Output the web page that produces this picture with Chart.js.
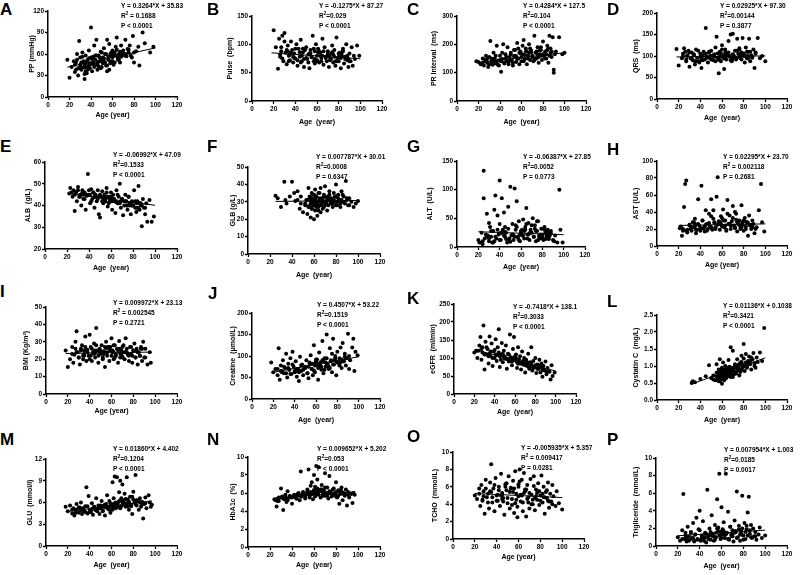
<!DOCTYPE html>
<html>
<head>
<meta charset="utf-8">
<script src="https://cdn.jsdelivr.net/npm/chart.js@4.4.1/dist/chart.umd.min.js"></script>
<style>
body { margin:0; background:#fff; width:800px; height:575px; position:relative; overflow:hidden; font-family:"Liberation Sans", Arial, sans-serif; }
canvas { position:absolute; }
.lbl { position:absolute; font-weight:bold; font-size:17px; line-height:17px; }
.eq { position:absolute; font-weight:bold; font-size:6.5px; line-height:10px; white-space:nowrap; }
.eq sup { font-size:4.5px; vertical-align:top; line-height:6px; }
</style>
</head>
<body>
<script>
// data (age in years vs each variable)
var ageA = [18,20,22,24,25,26,27,28,29,30,30,31,32,33,33,34,35,35,36,37,38,38,39,40,40,41,42,43,44,45,45,46,47,48,49,50,51,52,53,54,55,55,56,57,58,59,60,61,62,63,64,65,66,67,68,70,71,72,74,75,76,78,79,80,82,85,88,90,95,98,28,34,42,47,52,57,61,66,69,73,
  25,27,29,31,32,34,36,37,39,41,43,44,46,48,49,50,51,53,54,56,58,59,60,62,63,64,65,67,68,70,26,30,33,35,38,42,45,50,55,60,72,75,77,80,84,36,40,46,52,58];
var ppA = [52,27,42,50,35,48,60,30,78,45,55,38,62,41,50,25,47,58,33,52,44,65,40,97,55,36,48,72,52,45,80,38,58,50,63,42,55,68,48,60,80,36,52,74,47,57,65,45,62,70,83,55,60,48,72,65,58,80,67,62,72,55,85,48,64,44,90,75,62,70,40,32,56,43,50,38,58,52,60,57,
  45,52,40,48,56,44,50,38,47,53,42,58,46,55,40,52,47,60,44,56,50,62,55,48,58,66,52,63,56,60,38,42,48,36,54,46,58,62,44,50,60,66,58,62,70,41,46,48,54,60];
var fitA = [[18,41.7],[100,68.5]];

var ageB = [20,22,24,25,26,27,28,29,30,31,32,33,34,35,36,37,38,39,40,41,42,43,44,45,46,47,48,50,51,52,53,54,55,56,57,58,58,59,60,60,61,62,63,64,65,66,67,68,69,70,71,72,73,74,75,76,77,78,79,80,81,82,83,84,85,86,87,88,89,90,91,92,93,95,97,99,30,45,62,75,
  26,28,32,34,36,38,40,42,44,46,48,49,52,54,55,57,59,61,63,64,66,68,70,72,74,76,78,80,82,84,86,88,90,27,33,39,47,53,58,65,71,77,83,89,94,35,50,60,70,80];
var pulseB = [125,95,57,110,78,88,115,70,120,85,65,98,80,72,105,90,68,84,75,100,62,92,78,108,70,86,60,95,74,82,58,90,77,115,70,88,66,100,80,72,92,68,85,76,110,64,95,78,70,88,60,82,74,98,68,90,62,112,76,70,85,58,80,92,66,78,100,72,60,84,70,95,62,74,98,80,105,68,88,82,
  82,75,90,70,85,78,92,72,86,80,74,90,68,84,78,92,72,86,80,70,88,76,82,72,86,78,70,84,76,88,74,80,70,95,88,76,92,84,74,80,78,70,86,74,80,82,76,70,84,78];
var fitB = [[18,85.0],[100,74.5]];

// ages of the dense middle of the cohort, shared by several panels
var ageCore = [24,27,30,32,34,36,38,40,42,44,46,48,50,52,54,56,58,60,62,64,66,68,70,72,74,76,78,80,82,84,86,88,28,35,45,53,57,63,67,73,77,83,87,41,49,59,61,69,79,91];

var ageC = [18,20,22,24,25,26,27,28,29,30,31,32,33,34,35,36,37,38,39,40,41,42,43,44,45,46,47,48,49,50,51,52,53,54,55,56,57,58,59,60,61,62,63,64,65,66,67,68,69,70,71,72,73,74,75,76,77,78,79,80,81,82,83,84,85,86,87,88,89,90,90,92,95,98,100,35,55,65,75,85];
var prC = [140,138,130,150,125,145,160,135,120,155,212,140,128,170,150,135,195,142,125,160,103,148,200,135,165,140,190,130,155,170,145,125,180,160,138,205,150,130,175,140,165,215,148,185,130,160,200,145,178,155,140,230,170,150,190,135,165,180,145,210,160,175,150,195,135,230,170,155,225,110,100,175,225,165,170,145,158,175,162,185];
var prCore = [135,142,130,150,138,160,128,145,170,132,155,140,165,135,180,148,170,155,140,175,150,185,160,145,175,155,190,165,150,180,160,175,148,132,150,158,185,162,170,150,178,165,185,140,142,168,195,172,160,165];
var fitC = [[18,135.2],[100,170.3]];

var ageD = [18,20,23,24,25,27,28,29,30,31,32,33,34,35,36,37,38,40,41,42,43,44,45,46,47,48,49,50,51,52,53,54,55,56,57,58,59,60,61,62,63,64,65,66,67,68,69,70,71,72,73,74,75,76,77,78,79,80,81,82,83,84,85,86,87,88,89,90,91,93,95,97,100,26,39,57,63,70,76,84];
var qrsD = [116,78,95,105,118,88,100,112,75,95,108,90,102,80,115,96,88,105,72,100,110,92,165,98,85,108,95,112,100,90,104,120,145,96,60,110,88,125,100,70,115,92,105,135,98,150,88,152,100,112,92,140,105,118,95,108,142,100,85,120,95,110,140,88,102,98,115,72,105,142,95,100,88,110,85,92,104,96,115,100];
var qrsCore = [100,92,108,95,104,88,112,98,90,105,96,110,92,102,88,106,98,115,94,100,108,90,104,96,112,98,92,106,100,94,110,96,102,88,105,98,92,108,100,95,104,110,98,92,100,106,96,90,102,108];
var fitD = [[18,97.8],[100,100.2]];

var ageE = [22,23,25,26,27,28,29,30,31,32,33,34,35,36,37,38,39,40,41,42,43,44,45,46,47,48,49,50,51,52,53,54,55,56,57,58,59,60,61,62,63,64,65,66,67,68,69,70,71,72,73,74,75,76,77,78,79,80,81,82,83,84,85,86,87,88,89,90,91,92,93,95,97,99,45,55,60,65,75,85];
var albE = [45.5,48,44,47,37.5,46,42,48.5,44,45,40,47,43,46,38,44.5,54.5,45,41,47.5,43,46,39,45,42,47,36,34.5,44,46.5,41,45,43,48,39.5,44,42,46,38,45,43,36.5,47,41,44,50,39,43,35.5,42,45,40,38,44,41,36,42,40,47,39,37,42,49,38,41,30.5,43,39,36,41,32.5,42.5,32.5,35,44,42,43.5,41.5,40,38.5];
var albCore = [46,45,47,44,46,43,45,47,42,46,44,43,45,42,44,46,41,44,43,42,45,41,43,40,42,44,41,40,42,39,41,40,46,45,44,43,44,42,41,42,40,41,40,45,44,43,42,42,40,39];
var fitE = [[22,45.5],[100,40.1]];

var ageF = [25,27,30,33,34,35,38,40,42,43,45,47,48,50,52,53,54,55,56,56,57,57,58,58,59,59,60,60,61,61,62,62,63,63,64,64,65,66,66,67,68,68,69,70,70,71,72,73,74,75,76,77,78,79,80,80,81,82,83,84,85,86,87,88,89,90,91,92,94,96,98,100,60,62,65,72,58,78,55,67,
  52,54,55,56,57,58,58,59,60,60,61,62,62,63,64,65,65,66,67,68,69,70,71,72,73,74,75,76,77,78,79,80,81,82,84,85,86,88,90,92,45,48,56,59,61,63,66,69,71,74];
var glbF = [33.5,32,27,41.5,31,29,33,41.5,35,30.5,36,26,33,24,29,31,23,38,27,32,21,30,35,26,28,34,20,31,25,37,29,33,22,30,27,35,32,24,38,29,31,26,34,28,39,30,25,33,36,29,31,27,35,30,40,33,28,34,31,27,36,30,33,29,42,31,28,32,30,27,29,30.5,29.5,30,31,32,28.5,31,27.5,30,
  28,31,27,33,29,26,32,30,28,34,31,27,33,29,25,31,35,28,32,30,27,33,29,31,28,34,30,32,29,31,33,28,30,32,29,31,34,30,32,28,31,29,27,30,32,28,30,33,29,31];
var fitF = [[25,30.2],[100,30.8]];

var ageG = [20,21,23,24,25,25,26,28,29,30,31,32,33,34,35,36,37,38,39,40,40,41,42,43,44,45,46,47,48,49,50,51,52,53,54,55,56,57,58,59,60,61,62,63,64,65,66,67,68,69,70,71,72,73,74,75,76,77,78,79,80,81,82,83,84,85,86,88,90,92,94,96,97,99,30,45,55,65,75,85];
var altG = [12,8,25,5,133,85,15,58,20,10,35,18,8,28,65,90,15,55,22,116,40,12,85,30,60,18,25,8,70,15,105,20,40,12,102,30,80,18,45,10,28,20,48,15,35,68,22,42,12,30,25,50,18,38,10,28,45,20,15,32,22,12,35,25,18,30,15,28,12,20,8,100,30,8,42,35,38,40,45,25];
var altCore = [10,22,15,28,8,18,30,12,25,20,14,32,9,22,18,35,12,26,20,30,15,24,38,18,28,12,22,16,30,20,14,24,18,10,26,20,16,28,22,32,18,14,20,25,12,22,30,26,18,10];
var fitG = [[20,26.6],[100,21.5]];

var ageH = [21,22,23,24,25,26,27,28,30,31,32,33,34,35,36,37,38,39,40,41,42,43,44,45,46,47,48,49,50,51,52,53,54,55,56,57,58,59,60,61,62,63,64,65,66,67,68,69,70,71,72,73,74,75,76,77,78,79,80,81,82,83,84,85,86,87,88,89,90,92,94,96,97,99,35,50,60,65,72,80];
var astH = [21,23,12,18,46,73,77,16,25,20,18,28,22,32,15,19,55,24,18,71,30,21,17,42,26,20,38,23,55,19,42,28,22,58,81,26,19,35,24,43,22,30,18,54,26,36,20,29,47,24,22,38,17,26,30,20,48,25,18,33,23,28,12,36,24,20,30,26,15,22,42,73,28,17,26,35,33,38,40,30];
var astCore = [20,18,24,22,28,19,26,21,30,23,18,27,22,32,20,25,28,23,30,19,26,24,33,21,28,25,22,30,20,27,24,22,19,23,25,27,29,24,26,31,23,28,25,21,22,26,30,24,28,20];
var fitH = [[20,24.2],[100,26.0]];

var ageI = [18,20,22,24,25,26,27,28,29,30,31,32,33,34,35,36,37,38,39,40,41,42,43,44,45,46,47,48,49,50,51,52,53,54,55,56,57,58,59,60,61,62,63,64,65,66,67,68,69,70,71,72,73,74,75,76,77,78,79,80,81,82,83,84,85,86,87,88,89,90,91,93,95,96,35,45,55,62,70,78];
var bmiI = [25,15.5,20,27,18,22.5,30,36,24,21,17,26,28,20,23,33,19,25.5,22,34,27,19,24,29,21,38,25,18,26,23,28,20,24.5,15.5,30,22,27,19,25,32,24,20,28,22,26,18,30.5,23,25,21,28,20,32,24,22.5,19,27,23,18,25,29,21,26,17,24,22,27,19,30,21,26,17,24,18,25,23.5,26.5,24,21.5,27];
var bmiCore = [23,26,21,25,22,27,24,20,26,23,28,22,25,21,27,24,26,22,28,23,25,21,27,24,26,22,23,25,21,24,22,26,24,22,25,23,27,21,26,24,23,25,26,22,24,27,25,23,22,21];
var fitI = [[18,23.3],[97,24.1]];

var ageJ = [18,20,22,24,25,26,27,28,29,30,31,32,33,34,35,36,37,38,39,40,41,42,43,44,45,46,47,48,50,51,52,53,54,55,56,57,58,59,60,61,62,63,64,65,66,67,68,69,70,71,72,73,74,75,76,77,78,79,80,81,82,83,84,85,86,87,88,89,90,91,92,94,95,96,97,99,60,65,70,75];
var creJ = [85,62,70,55,118,45,78,65,90,60,72,105,50,82,68,95,58,110,75,62,88,52,70,42,98,65,80,55,72,90,60,48,85,102,70,55,125,62,92,78,45,108,85,68,135,60,95,75,150,82,70,118,90,62,140,80,100,55,110,85,95,120,72,130,88,105,78,95,152,70,90,120,140,65,110,102,88,75,95,105];
var creCore = [70,65,75,60,72,58,80,65,70,62,78,68,75,60,82,70,66,85,72,78,90,68,82,75,88,80,95,85,78,92,88,95,62,68,66,75,82,80,88,72,90,85,98,64,72,78,92,85,88,100];
var fitJ = [[18,61.3],[100,98.3]];

var ageK = [20,22,23,25,26,27,28,29,30,31,32,33,34,35,36,37,38,39,40,41,42,43,44,45,46,47,48,49,50,51,52,53,54,55,56,57,58,59,60,61,62,63,64,65,66,67,68,69,70,71,72,73,74,75,76,77,78,79,80,81,82,83,84,85,86,87,88,89,90,91,92,94,95,96,97,99,45,55,65,75];
var egfrK = [115,120,100,135,158,95,130,190,68,145,110,125,85,160,105,140,78,118,100,152,92,130,180,75,110,142,88,120,98,135,70,112,90,165,102,80,125,158,95,110,72,130,88,105,68,118,82,100,60,95,78,112,70,88,130,65,92,75,100,58,82,70,95,60,85,48,78,65,90,55,72,62,40,80,50,60,105,98,85,78];
var egfrCore = [120,125,110,130,105,118,100,122,108,115,95,112,104,98,110,92,100,105,88,96,85,92,80,88,76,84,72,80,70,78,74,68,115,112,108,96,90,84,88,78,76,70,66,110,102,94,100,86,74,62];
var fitK = [[20,123.3],[100,63.9]];

var ageL = [32,33,35,40,45,48,50,52,54,55,55,56,57,57,58,58,59,59,60,60,61,61,62,62,63,63,64,64,65,65,66,67,67,68,68,69,70,70,71,72,73,74,74,75,76,77,78,78,79,80,80,81,82,83,84,85,86,87,88,89,90,91,92,93,95,97,99,60,62,66,
  55,56,57,58,59,60,61,62,63,64,65,66,67,68,69,70,71,72,73,74,75,76,77,78,79,80,82,84,86,88,58,60,62,64,66,68,70,72,74,76,78,80,83,85,87,90,52,57,63,67];
var cysL = [0.5,0.55,0.52,0.62,0.7,1.02,0.65,0.72,0.58,0.8,1.05,0.68,0.9,0.55,0.75,1.2,0.62,0.85,0.48,0.95,0.72,1.1,0.58,0.88,0.78,1.0,0.65,0.92,0.7,0.82,1.18,0.75,0.98,1.55,0.8,0.88,1.45,0.68,0.92,1.05,0.78,1.2,0.85,0.95,0.72,1.1,1.3,0.88,0.98,1.65,1.02,0.85,1.35,0.95,1.15,1.28,1.05,0.9,1.2,1.38,1.08,0.95,1.25,1.12,1.4,1.15,2.12,0.62,0.78,0.85,
  0.7,0.62,0.82,0.68,0.75,0.9,0.7,0.85,0.65,0.8,0.95,0.72,0.88,0.78,0.92,0.85,0.75,1.0,0.8,0.95,0.88,1.05,0.82,1.12,0.95,1.0,1.1,1.05,1.15,1.2,0.55,0.78,0.6,0.72,0.85,0.68,0.95,0.82,1.02,0.9,1.08,1.22,0.98,1.12,1.25,1.0,0.6,0.66,0.9,0.75];
var fitL = [[32,0.47],[100,1.24]];

var ageM = [18,20,22,24,25,26,27,28,30,31,32,33,34,35,36,37,38,39,40,41,42,43,44,45,46,47,48,49,50,51,52,53,54,55,56,57,58,59,60,61,62,63,64,65,66,67,68,69,70,71,72,73,74,75,76,77,78,79,80,81,82,83,84,85,86,87,88,89,90,91,92,94,95,96,97,65,70,75,60,55];
var gluM = [5.4,4.8,5.6,4.5,5.2,4.2,5.0,5.8,4.6,5.3,6.0,4.4,5.1,4.8,5.5,8.1,4.5,6.9,5.0,4.7,5.9,4.3,5.4,5.0,6.6,4.8,5.2,4.4,5.6,6.2,4.9,5.4,4.2,5.8,7.0,5.1,6.2,4.6,5.5,8.8,6.6,9.6,5.2,9.5,6.0,7.4,9.0,5.5,8.5,6.1,7.2,5.4,9.5,6.4,5.0,6.8,5.6,4.4,7.5,6.0,9.8,5.6,6.3,5.0,6.6,5.4,6.1,3.8,5.8,6.7,5.2,7.0,6.0,5.4,5.7,5.8,6.0,5.5,5.6,5.3];
var gluCore = [5.0,4.6,5.3,4.9,5.2,4.7,5.5,4.8,5.1,5.4,4.9,5.6,5.2,4.8,5.7,5.3,5.0,5.8,5.4,6.0,5.5,5.2,6.3,5.7,5.9,6.1,5.5,6.4,5.8,6.2,6.0,5.7,5.0,4.8,5.2,5.6,5.4,5.9,6.2,6.5,5.8,6.3,6.0,4.7,5.3,5.9,5.0,6.6,6.8,5.9];
var fitM = [[18,4.74],[97,6.21]];

var ageN = [25,26,27,28,30,31,32,33,34,35,36,38,40,42,44,45,47,48,49,50,52,53,54,55,56,57,58,58,59,60,60,61,62,62,63,64,64,65,66,67,68,69,70,71,72,73,74,75,76,77,78,79,80,81,82,83,84,85,86,87,88,89,90,91,92,94,95,96,97,65,70,75,55,60,80,63,68,72,57,85];
var hbaN = [5.2,4.5,5.4,5.1,6.5,5.6,4.1,5.3,5.8,5.0,6.2,5.5,4.8,5.7,5.4,5.9,5.2,8.4,5.6,6.1,5.4,5.8,6.4,8.6,5.5,6.8,5.9,7.2,5.3,6.0,8.0,5.6,9.0,6.5,7.5,5.8,8.9,6.2,5.5,6.9,5.7,6.3,8.2,5.9,6.6,5.4,7.9,6.1,5.6,6.4,5.8,6.0,7.2,5.5,6.3,4.8,5.9,6.6,5.2,6.0,5.7,6.4,4.6,6.1,5.5,5.9,4.9,6.0,5.8,6.2,5.7,6.0,5.9,6.3,5.6,6.5,6.1,5.7,5.8,6.2];
var hbaCore = [5.3,5.1,5.5,5.4,5.6,5.2,5.7,5.5,5.8,5.4,6.0,5.6,5.9,5.7,6.2,5.8,6.0,6.3,5.9,6.1,6.4,5.8,6.6,6.0,6.2,5.9,6.5,6.1,5.7,6.3,6.0,5.8,5.5,5.4,5.7,5.9,6.1,6.2,6.4,6.0,5.8,6.2,5.9,5.6,5.8,6.0,6.7,6.1,5.9,5.8];
var fitN = [[25,5.44],[97,6.14]];

var ageO = [20,22,24,25,26,27,28,29,30,31,32,33,34,35,36,37,38,39,40,41,42,43,44,45,46,47,48,49,50,51,52,53,54,55,56,57,58,59,60,61,62,63,64,65,66,67,68,69,70,71,72,73,74,75,76,77,78,79,80,81,82,83,84,85,86,87,88,89,90,91,92,94,95,97,100,45,55,60,65,75];
var tchO = [5.0,4.6,5.8,3.8,6.2,4.4,5.5,2.9,6.8,4.8,5.2,3.5,6.5,8.6,4.2,5.8,3.2,7.0,5.0,4.4,6.0,3.8,7.5,5.3,4.7,2.8,6.3,5.6,4.1,7.2,3.5,5.8,4.6,6.7,3.0,7.8,5.2,2.5,6.0,8.0,4.3,6.8,3.2,7.6,5.5,2.6,6.2,4.8,3.5,6.9,5.1,4.0,7.2,3.3,5.7,4.5,6.4,3.9,5.0,7.3,4.2,6.0,2.9,5.4,4.7,6.5,3.6,5.2,4.3,6.2,4.9,3.8,5.5,4.1,3.4,5.1,5.4,4.9,5.3,4.7];
var tchCore = [5.2,4.5,5.8,4.2,5.5,4.8,6.2,4.4,5.6,5.0,4.3,6.0,4.7,5.4,3.9,5.8,4.5,6.3,5.1,4.2,5.7,4.6,5.3,4.0,6.1,4.9,5.5,4.4,5.2,4.8,5.6,4.3,4.9,5.4,4.6,5.9,4.1,5.0,5.7,4.5,5.3,4.8,4.4,5.1,6.4,3.7,6.6,4.2,5.5,4.0];
var fitO = [[20,5.24],[100,4.76]];

var ageP = [20,22,24,25,26,27,28,29,30,31,32,33,34,35,36,37,38,39,40,41,42,43,44,45,46,47,48,49,50,51,52,53,54,55,56,57,58,59,60,61,62,63,64,65,66,67,68,69,70,71,72,73,74,75,76,77,78,79,80,81,82,83,84,85,86,87,88,89,90,91,92,94,95,97,100,45,55,62,70,78];
var tgP = [1.0,0.6,1.8,5.9,0.8,1.5,0.5,2.2,1.1,0.7,1.6,0.9,2.6,0.5,1.3,3.2,0.8,1.9,4.0,0.6,1.2,2.8,0.9,1.5,0.4,6.4,1.1,2.0,0.7,3.5,1.4,0.6,2.4,1.0,5.3,1.7,8.2,0.8,4.4,1.3,2.7,0.9,8.2,1.5,3.9,0.7,2.2,1.2,1.8,0.5,2.9,1.6,6.2,1.0,2.3,0.6,1.7,5.7,1.2,2.6,0.8,1.9,3.8,5.6,1.4,2.4,0.9,2.0,1.1,1.6,0.7,1.3,2.1,0.9,1.2,1.0,1.5,1.3,1.1,1.4];
var tgCore = [0.8,1.2,0.6,1.5,0.9,1.3,0.7,1.8,1.0,0.6,1.4,0.8,1.6,1.1,0.7,2.0,1.2,0.9,1.7,1.3,0.8,2.2,1.1,1.5,0.9,1.9,1.3,0.7,1.6,1.2,1.8,1.0,0.9,0.6,1.4,1.1,2.1,1.5,0.8,1.7,1.3,2.3,1.0,0.7,1.2,1.6,1.9,1.4,2.0,1.1];
var fitP = [[20,1.16],[100,1.80]];

var xTicks = [0, 120, 20];

// panel layout: plot box (l,t,r,b), y range, titles, annotation spot, letter spot
var panels = [
  {k:'A', x:ageA, y:ppA, fit:fitA, l:48, t:11, r:177, b:97, min:0, max:120, step:30, yt:'PP (mmHg)', xt:'Age (year)', ytx:32, xty:115,
   eq:['Y = 0.3264*X + 35.83', 'R<sup>2</sup> = 0.1688', 'P &lt; 0.0001'], ex:121, ey:6, lx:0, ly:3},
  {k:'B', x:ageB, y:pulseB, fit:fitB, l:252, t:16, r:382, b:101, min:0, max:150, step:50, yt:'Pulse  (bpm)', xt:'Age  (year)', ytx:230.5, xty:122.7,
   eq:['Y = -0.1275*X + 87.27', 'R<sup>2</sup>=0.029', 'P &lt; 0.0001'], ex:319, ey:6, lx:207, ly:3},
  {k:'C', x:ageC.concat(ageCore), y:prC.concat(prCore), fit:fitC, l:457, t:16, r:586, b:101, min:0, max:300, step:100, yt:'PR Interval  (ms)', xt:'Age  (year)', ytx:434.5, xty:122.3,
   eq:['Y = 0.4284*X + 127.5', 'R<sup>2</sup>=0.104', 'P &lt; 0.0001'], ex:523, ey:6, lx:407, ly:3},
  {k:'D', x:ageD.concat(ageCore), y:qrsD.concat(qrsCore), fit:fitD, l:657, t:13, r:787, b:99, min:0, max:200, step:50, yt:'QRS  (ms)', xt:'Age  (year)', ytx:636.5, xty:118.3,
   eq:['Y = 0.02925*X + 97.30', 'R<sup>2</sup>=0.00144', 'P = 0.3877'], ex:720, ey:6, lx:607, ly:3},
  {k:'E', x:ageE.concat(ageCore), y:albE.concat(albCore), fit:fitE, l:45, t:162, r:177, b:249, min:20, max:60, step:10, yt:'ALB  (g/L)', xt:'Age  (year)', ytx:28.5, xty:268.3,
   eq:['Y = -0.06992*X + 47.09', 'R<sup>2</sup>=0.1533', 'P &lt; 0.0001'], ex:113, ey:155, lx:0, ly:140},
  {k:'F', x:ageF, y:glbF, fit:fitF, l:248, t:167, r:380, b:254, min:0, max:50, step:10, yt:'GLB (g/L)', xt:'Age  (year)', ytx:233.5, xty:275,
   eq:['Y = 0.007787*X + 30.01', 'R<sup>2</sup>=0.0008', 'P = 0.6347'], ex:316, ey:157, lx:207, ly:140},
  {k:'G', x:ageG.concat(ageCore), y:altG.concat(altCore), fit:fitG, l:457, t:161, r:585, b:247, min:0, max:150, step:50, yt:'ALT  (U/L)', xt:'Age  (year)', ytx:430, xty:267.7,
   eq:['Y = -0.06387*X + 27.85', 'R<sup>2</sup>=0.0052', 'P = 0.0773'], ex:523, ey:157, lx:407, ly:140},
  {k:'H', x:ageH.concat(ageCore), y:astH.concat(astCore), fit:fitH, l:657, t:161, r:787, b:246, min:0, max:100, step:20, yt:'AST (U/L)', xt:'Age (year)', ytx:636, xty:265,
   eq:['Y = 0.02295*X + 23.70', 'R<sup>2</sup> = 0.002118', 'P = 0.2681'], ex:723, ey:157, lx:607, ly:143},
  {k:'I', x:ageI.concat(ageCore), y:bmiI.concat(bmiCore), fit:fitI, l:46, t:307, r:177, b:394, min:0, max:50, step:10, yt:'BMI (Kg/m²)', xt:'Age (year)', ytx:26.5, xty:411.7,
   eq:['Y = 0.009972*X + 23.13', 'R<sup>2</sup> = 0.002545', 'P = 0.2721'], ex:113, ey:303, lx:0, ly:285},
  {k:'J', x:ageJ.concat(ageCore), y:creJ.concat(creCore), fit:fitJ, l:252, t:313, r:380, b:399, min:0, max:200, step:50, yt:'Creatine  (μmol/L)', xt:'Age  (year)', ytx:233.5, xty:420.7,
   eq:['Y = 0.4507*X + 53.22', 'R<sup>2</sup>=0.1519', 'P &lt; 0.0001'], ex:317, ey:305, lx:208, ly:287},
  {k:'K', x:ageK.concat(ageCore), y:egfrK.concat(egfrCore), fit:fitK, l:454, t:304, r:576, b:394, min:0, max:250, step:50, yt:'eGFR  (ml/min)', xt:'Age  (year)', ytx:433.5, xty:412.7,
   eq:['Y = -0.7418*X + 138.1', 'R<sup>2</sup>=0.3033', 'P &lt; 0.0001'], ex:513, ey:307, lx:407, ly:292},
  {k:'L', x:ageL, y:cysL, fit:fitL, l:657, t:315, r:787, b:400, min:0, max:2.5, step:0.5, yt:'Cystatin C  (mg/L)', xt:'Age  (year)', ytx:636.5, xty:420.7,
   eq:['Y = 0.01136*X + 0.1038', 'R<sup>2</sup>=0.3421', 'P &lt; 0.0001'], ex:723, ey:306, lx:607, ly:295},
  {k:'M', x:ageM.concat(ageCore), y:gluM.concat(gluCore), fit:fitM, l:46, t:459, r:177, b:546, min:0, max:12, step:3, yt:'GLU  (mmol/l)', xt:'Age  (year)', ytx:30, xty:565,
   eq:['Y = 0.01860*X + 4.402', 'R<sup>2</sup>=0.1204', 'P &lt; 0.0001'], ex:113, ey:449, lx:0, ly:433},
  {k:'N', x:ageN.concat(ageCore), y:hbaN.concat(hbaCore), fit:fitN, l:248, t:457, r:380, b:547, min:0, max:10, step:2, yt:'HbA1c  (%)', xt:'Age  (year)', ytx:233.5, xty:565.7,
   eq:['Y = 0.009652*X + 5.202', 'R<sup>2</sup>=0.053', 'P &lt; 0.0001'], ex:317, ey:449, lx:207, ly:433},
  {k:'O', x:ageO.concat(ageCore), y:tchO.concat(tchCore), fit:fitO, l:453, t:452, r:584, b:539, min:0, max:10, step:2, yt:'TCHO  (mmol/L)', xt:'Age (year)', ytx:435, xty:557.3,
   eq:['Y = -0.005935*X + 5.357', 'R<sup>2</sup> = 0.009417', 'P = 0.0281'], ex:521, ey:448, lx:407, ly:430},
  {k:'P', x:ageP.concat(ageCore), y:tgP.concat(tgCore), fit:fitP, l:656, t:458, r:787, b:546, min:0, max:10, step:2, yt:'Trigliceride  (mmol/L)', xt:'Age  (year)', ytx:636.5, xty:566,
   eq:['Y = 0.007954*X + 1.003', 'R<sup>2</sup>=0.0185', 'P = 0.0017'], ex:724, ey:450, lx:607, ly:433}
];

Chart.defaults.font.family = '"Liberation Sans", Arial, sans-serif';
Chart.defaults.color = '#000';

var tickFont = {size: 6.5, weight: 'bold'};
var titleFont = {size: 7, weight: 'bold', lineHeight: 1};

function build(p) {
  var PT = 8, PR = 12;
  var left = Math.round(p.ytx - 3.5);
  var yw = p.l - left;
  var xh = Math.round(p.xty - p.b + 3.5);
  var w = Math.round(yw + (p.r - p.l) + PR);
  var h = Math.round(PT + (p.b - p.t) + xh);

  var can = document.createElement('canvas');
  can.style.left = left + 'px';
  can.style.top = (p.t - PT) + 'px';
  can.style.width = w + 'px';
  can.style.height = h + 'px';
  can.width = w;
  can.height = h;
  document.body.appendChild(can);

  var pts = p.x.map(function (v, i) { return {x: v, y: p.y[i]}; });
  var line = p.fit.map(function (q) { return {x: q[0], y: q[1]}; });
  var dec = p.step < 1 ? 1 : 0;

  new Chart(can, {
    type: 'scatter',
    data: {
      datasets: [
        {data: pts, pointRadius: 2, pointBackgroundColor: '#000', pointBorderWidth: 0},
        {type: 'line', data: line, borderColor: '#000', borderWidth: 1, pointRadius: 0, fill: false}
      ]
    },
    options: {
      responsive: false,
      animation: false,
      devicePixelRatio: 1,
      layout: {padding: {top: PT, right: PR, left: 0, bottom: 0}},
      plugins: {legend: {display: false}, tooltip: {enabled: false}},
      scales: {
        x: {
          type: 'linear', min: xTicks[0], max: xTicks[1],
          ticks: {stepSize: xTicks[2], font: tickFont, padding: 1, autoSkip: false, maxRotation: 0},
          grid: {drawOnChartArea: false, drawTicks: true, tickLength: 3, tickWidth: 1.3, color: '#000'},
          border: {color: '#000', width: 1.5},
          title: {display: true, text: p.xt, font: titleFont, padding: 0},
          afterFit: function (s) { s.height = xh; }
        },
        y: {
          type: 'linear', min: p.min, max: p.max,
          ticks: {stepSize: p.step, font: tickFont, padding: 1, autoSkip: false,
                  callback: function (v) { return v.toFixed(dec); }},
          grid: {drawOnChartArea: false, drawTicks: true, tickLength: 3, tickWidth: 1.3, color: '#000'},
          border: {color: '#000', width: 1.5},
          title: {display: true, text: p.yt, font: titleFont, padding: 0},
          afterFit: function (s) { s.width = yw; }
        }
      }
    }
  });

  var lb = document.createElement('div');
  lb.className = 'lbl';
  lb.style.left = p.lx + 'px';
  lb.style.top = (p.ly - 2) + 'px';
  lb.textContent = p.k;
  document.body.appendChild(lb);

  var eq = document.createElement('div');
  eq.className = 'eq';
  eq.style.left = p.ex + 'px';
  eq.style.top = (p.ey - 5) + 'px';
  eq.innerHTML = p.eq.join('<br>');
  document.body.appendChild(eq);
}

panels.forEach(build);
</script>
</body>
</html>
